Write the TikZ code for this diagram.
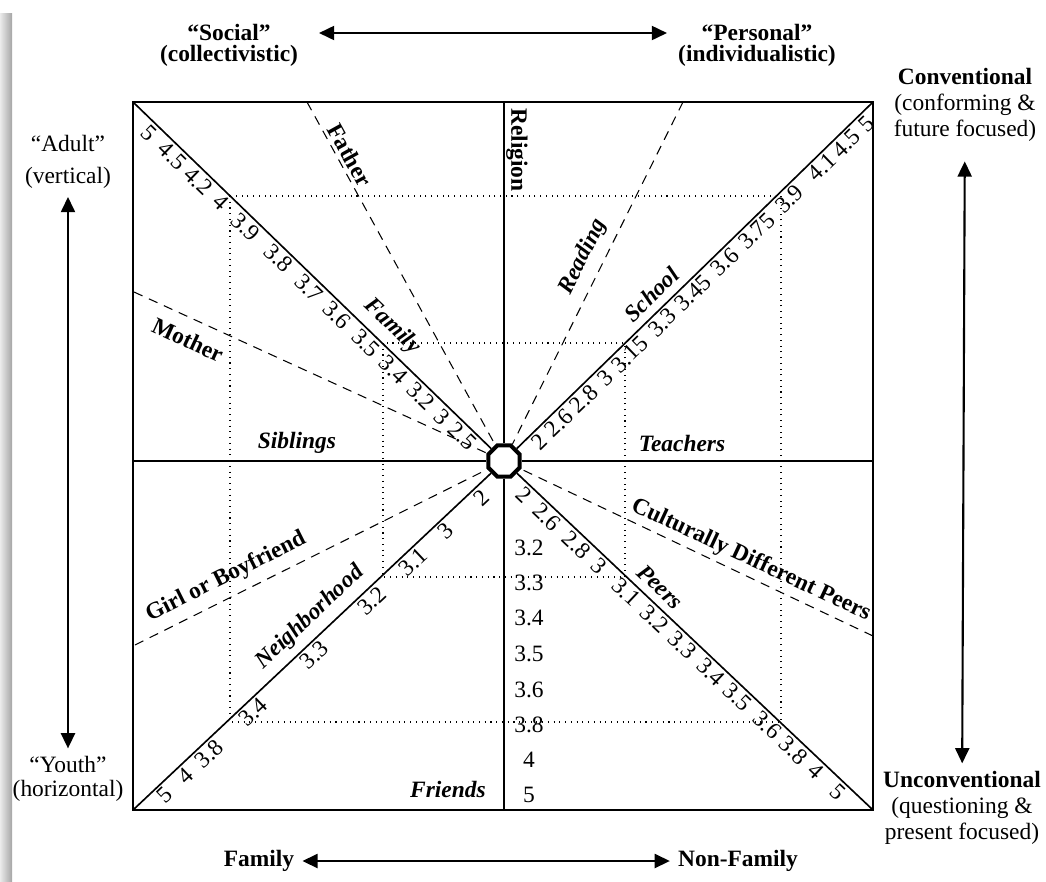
\documentclass[tikz,border=0pt]{standalone}
\usepackage{fontspec}
\setmainfont{Liberation Serif}
\usetikzlibrary{arrows.meta,shapes.geometric}
\tikzset{> = {Triangle[length=6.5pt, width=6pt]}}
\tikzset{
	pole/.style={<->, line width=0.9pt},
	num/.style={sloped, below, inner sep=1.2pt},
	tag/.style={font=\bfseries},
	itag/.style={font=\bfseries\itshape},
	dashln/.style={dash pattern=on 4pt off 3pt, line width=0.45pt},
	dotbox/.style={dotted, line width=0.45pt},
	oct/.style={regular polygon, regular polygon sides=8, draw, fill=white,
		line width=1.7pt, minimum size=14.5pt, inner sep=0pt}
}

\begin{document}
\begin{tikzpicture}[x=0.015cm, y=-0.015cm]
	\useasboundingbox (0,0) rectangle (1046,882);
	\shade[left color=black!8, right color=black!35] (0,13) rectangle (12,882);
	% corners of the frame
	\coordinate (tl) at (133,102);
	\coordinate (tr) at (873,102);
	\coordinate (bl) at (133,810);
	\coordinate (br) at (873,810);
	\coordinate (top) at (504,102);
	\coordinate (bot) at (504,810);
	\coordinate (lft) at (133,461);
	\coordinate (rgt) at (873,461);
	% free ends of the dashed rays
	\coordinate (fth) at (307,102);
	\coordinate (rdg) at (683,102);
	\coordinate (mth) at (134,292);
	\coordinate (gbe) at (135,645);
	\coordinate (cde) at (873,636);
	\node[oct] (c) at (504,461) {};
	% rings
	\draw[dotbox] (230,196) rectangle (781,722);
	\draw[dotbox] (383,343) rectangle (625,577);
	\draw[dashln] (fth) -- (c) (rdg) -- (c) (mth) -- (c) (gbe) -- (c) (cde) -- (c);
	\draw[line width=1pt] (tl) rectangle (br);
	\draw[line width=1.2pt] (top) -- (c);
	\draw[line width=0.7pt] (c) -- (bot);
	\draw[line width=0.9pt] (lft) -- (c) -- (rgt);
	\draw[line width=0.7pt] (tl) -- (c) (tr) -- (c) (bl) -- (c) (br) -- (c);
	% scale values
	\foreach \v/\p [count=\i] in {5/.065, 4.5/.127, 4.2/.197, 4/.257, 3.9/.325, 3.8/.413,
		3.7/.495, 3.6/.571, 3.5/.649, 3.4/.723, 3.2/.797, 3/.854, 2.5/.909}
		\path (tl) -- (c.center) node[num, pos=\p] (tl\i) {\v};
	\foreach \v/\p [count=\i] in {5/.04, 4.5/.093, 4.1/.159, 3.9/.248, 3.75/.337, 3.6/.423,
		3.45/.509, 3.3/.592, 3.15/.681, 3/.747, 2.8/.804, 2.6/.872, 2/.924}
		\path (tr) -- (c.center) node[num, pos=\p] (tr\i) {\v};
	\foreach \v/\p [count=\i] in {5/.066, 4/.121, 3.8/.184, 3.4/.304, 3.3/.467, 3.2/.623,
		3.1/.735, 3/.823, 2/.918}
		\path (bl) -- (c.center) node[num, pos=\p] (bl\i) {\v};
	\foreach \v/\p [count=\i] in {5/.075, 4/.134, 3.8/.194, 3.6/.266, 3.5/.346, 3.4/.418,
		3.3/.496, 3.2/.571, 3.1/.648, 3/.722, 2.8/.782, 2.6/.863, 2/.925}
		\path (br) -- (c.center) node[num, pos=\p] (br\i) {\v};
	\foreach \v/\y [count=\i] in {3.2/548, 3.3/583, 3.4/618, 3.5/654, 3.6/690, 3.8/725, 4/760, 5/795}
		\node (fr\i) at (529,\y) {\v};
	% domain names
	\path (tl) -- (c.center) node[itag, sloped, above, pos=.663] (family) {Family};
	\path (tr) -- (c.center) node[itag, sloped, above, pos=.569] (school) {School};
	\path (bl) -- (c.center) node[itag, sloped, above, pos=.512] (nbh) {Neighborhood};
	\path (br) -- (c.center) node[itag, sloped, above, pos=.606] (peers) {Peers};
	\node[tag, rotate=-90] (rel) at (517,150) {Religion};
	\node[tag, rotate=-61] (father) at (350,155) {Father};
	\node[itag, rotate=63.5] (reading) at (583,257) {Reading};
	\node[tag, rotate=-25] (mother) at (188,340) {Mother};
	\node[tag, rotate=26.6] (gbf) at (226,577) {Girl or Boyfriend};
	\node[tag, rotate=-25] (cdp) at (751,560) {Culturally Different Peers};
	\node[itag] (sib) at (297,443) {Siblings};
	\node[itag] (teach) at (682,443) {Teachers};
	\node[itag] (friends) at (448,789) {Friends};
	% poles
	\node[tag, align=center] (social) at (229,45) {“Social”\\[-3pt](collectivistic)};
	\node[tag, align=center] (personal) at (757,45) {“Personal”\\[-3pt](individualistic)};
	\node[align=center] (adult) at (68,162) {“Adult”\\[1.7pt](vertical)};
	\node[align=center] (youth) at (68,779) {“Youth”\\[-2pt](horizontal)};
	\node[align=center] (conv) at (965,105) {\textbf{Conventional}\\[-1pt](conforming \&\\[-1pt]future focused)};
	\node[align=center] (unconv) at (962,808) {\textbf{Unconventional}\\[-1pt](questioning \&\\[-1pt]present focused)};
	\node[tag] (fam) at (259,861) {Family};
	\node[tag] (nonfam) at (738,861) {Non-Family};
	\coordinate (sa) at (319,33);
	\coordinate (pa) at (667,33);
	\draw[pole] (sa) -- (pa);
	\draw[pole] (adult) -- (youth);
	\draw[pole, shorten <=5pt] (conv) -- (unconv);
	\draw[pole] (fam) -- (nonfam);
\end{tikzpicture}
\end{document}
